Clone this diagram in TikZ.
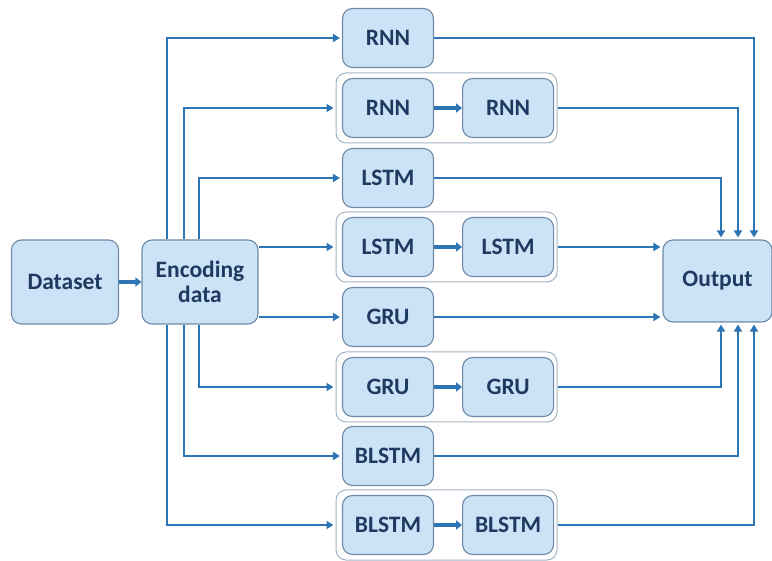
\documentclass[tikz,border=0pt]{standalone}
\usepackage{fontspec}
\setmainfont{Carlito}
\usetikzlibrary{arrows.meta, positioning, calc}
\definecolor{BoxFill}{HTML}{CCE2F7}
\definecolor{BoxEdge}{HTML}{6F8AA6}
\definecolor{GroupEdge}{HTML}{A3B3C2}
\definecolor{TextNavy}{HTML}{1F3A60}
\definecolor{LineBlue}{HTML}{2E75B6}

\begin{document}
\begin{tikzpicture}[x=1pt, y=-1pt,
    block/.style={draw=BoxEdge, line width=1.1pt, fill=BoxFill, rounded corners=10pt,
        text=TextNavy, font=\bfseries\fontsize{23.5}{25}\selectfont, align=center, inner sep=0pt},
    net/.style={block, minimum width=91pt, minimum height=59pt},
    group/.style={draw=GroupEdge, line width=1pt, fill=white, rounded corners=10pt,
        minimum width=221pt, minimum height=70pt},
    conn/.style={draw=LineBlue, line width=2.8pt, shorten >=2pt, -{Triangle[length=7pt, width=8pt]}},
    link/.style={draw=LineBlue, line width=3.8pt, -{Triangle[length=6pt, width=9pt]}}]
    \useasboundingbox (0,0) rectangle (772,561);

    % Input side
    \node[block, minimum width=107pt, minimum height=84pt] (dataset) at (65,282) {Dataset};
    \node[block, minimum width=116pt, minimum height=84pt] (enc) at (200,282) {Encoding\\data};
    \draw[link, line width=3.2pt] (dataset) -- (enc);

    % Output
    \node[block, minimum width=109pt, minimum height=82pt] (out) at (717.5,281) {Output};

    % Stacked pairs (frames first)
    \node[group] (g2) at (446.5,108) {};
    \node[group] (g4) at (446.5,247) {};
    \node[group] (g6) at (446.5,387) {};
    \node[group] (g8) at (446.5,525) {};

    % Single layers
    \node[net] (rnn) at (388,38) {RNN};
    \node[net] (lstm) at (388,178) {LSTM};
    \node[net] (gru) at (388,317) {GRU};
    \node[net] (blstm) at (388,456) {BLSTM};

    % Two layers
    \node[net] (rnnA) at (388,108) {RNN};
    \node[net, right=28pt of rnnA] (rnnB) {RNN};
    \node[net] (lstmA) at (388,247) {LSTM};
    \node[net, right=28pt of lstmA] (lstmB) {LSTM};
    \node[net] (gruA) at (388,387) {GRU};
    \node[net, right=28pt of gruA] (gruB) {GRU};
    \node[net] (blstmA) at (388,525) {BLSTM};
    \node[net, right=28pt of blstmA] (blstmB) {BLSTM};
    \draw[link] (rnnA) -- (rnnB);
    \draw[link] (lstmA) -- (lstmB);
    \draw[link] (gruA) -- (gruB);
    \draw[link] (blstmA) -- (blstmB);

    % Encoding data -> models
    \draw[conn] ([xshift=-33pt]enc.north) |- (rnn.west);
    \draw[conn] ([xshift=-16pt]enc.north) |- (g2.west);
    \draw[conn] ([xshift=-1pt]enc.north) |- (lstm.west);
    \draw[conn] (enc.east |- g4.west) -- (g4.west);
    \draw[conn] (enc.east |- gru.west) -- (gru.west);
    \draw[conn] ([xshift=-1pt]enc.south) |- (g6.west);
    \draw[conn] ([xshift=-16pt]enc.south) |- (blstm.west);
    \draw[conn] ([xshift=-33pt]enc.south) |- (g8.west);

    % Models -> Output
    \draw[conn] (rnn.east) -| ([xshift=36.5pt]out.north);
    \draw[conn] (g2.east) -| ([xshift=20.5pt]out.north);
    \draw[conn] (lstm.east) -| ([xshift=3.5pt]out.north);
    \draw[conn] (g4.east) -- (out.west |- g4.east);
    \draw[conn] (gru.east) -- (out.west |- gru.east);
    \draw[conn] (g6.east) -| ([xshift=3.5pt]out.south);
    \draw[conn] (blstm.east) -| ([xshift=20.5pt]out.south);
    \draw[conn] (g8.east) -| ([xshift=36.5pt]out.south);
\end{tikzpicture}
\end{document}
